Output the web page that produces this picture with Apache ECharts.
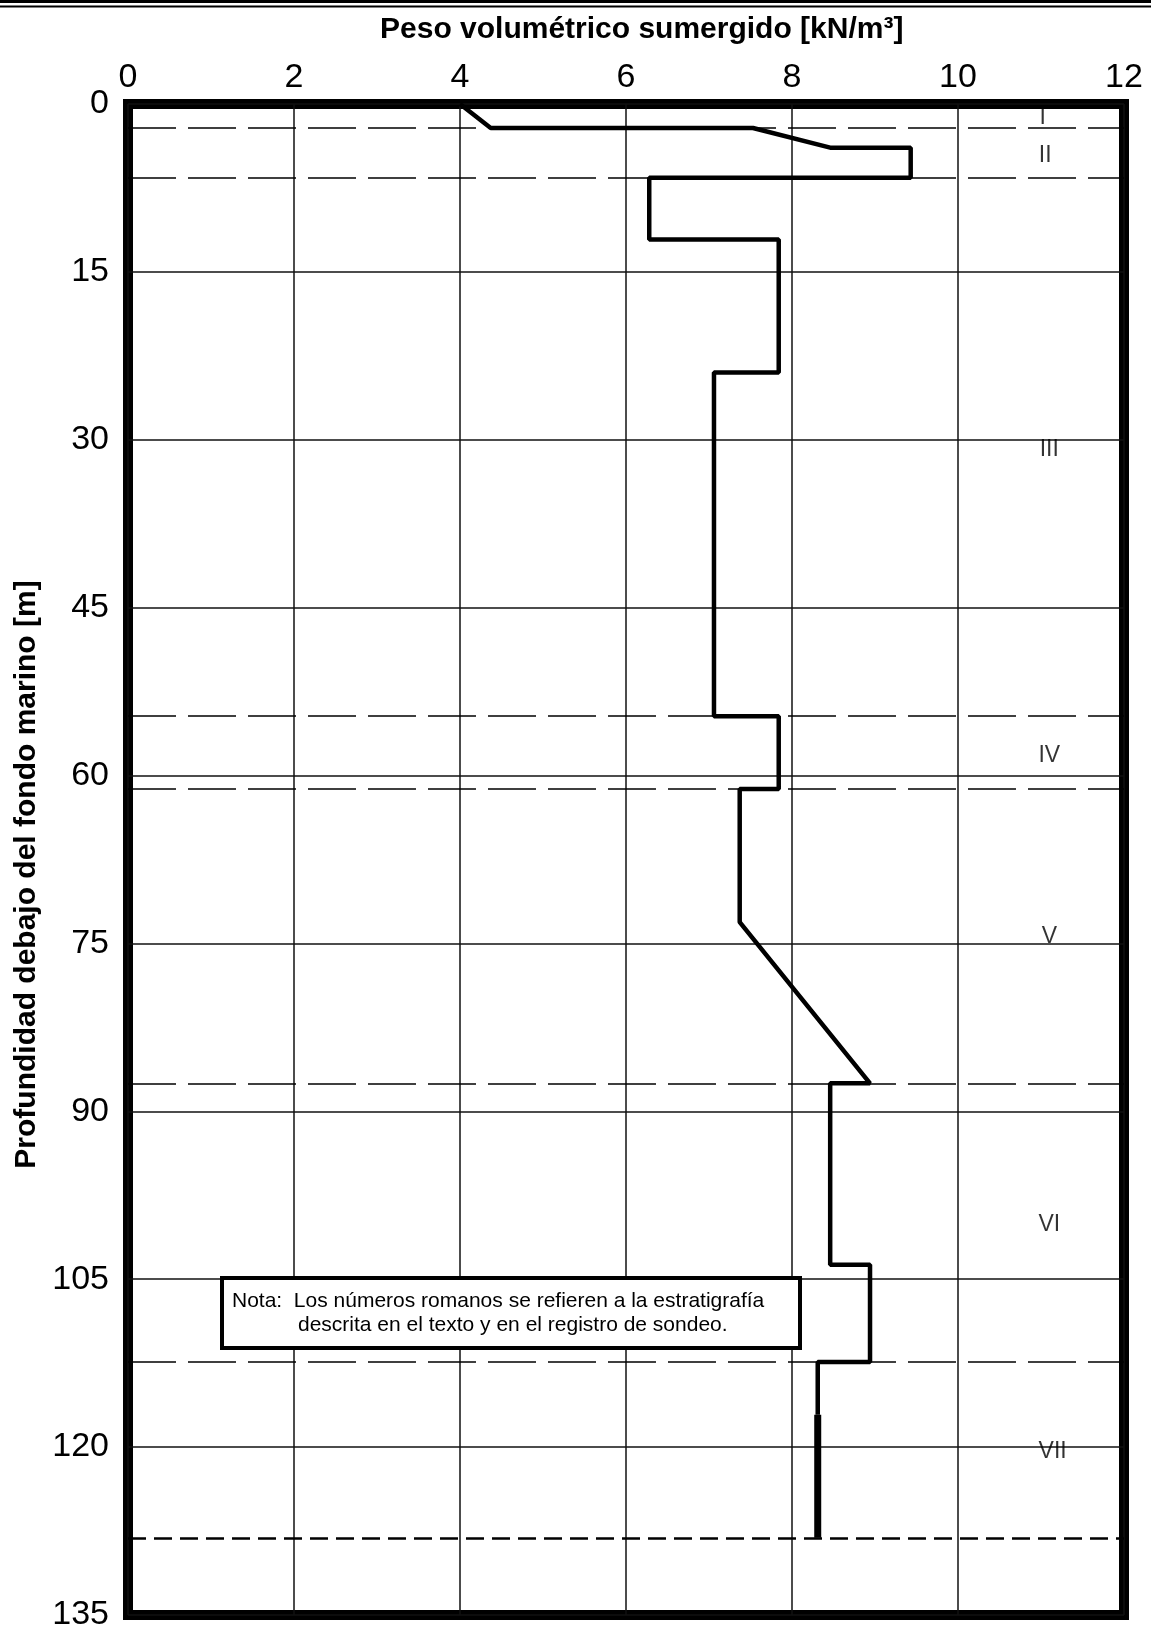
<!DOCTYPE html>
<html>
<head>
<meta charset="utf-8">
<script src="https://cdn.jsdelivr.net/npm/echarts@6/dist/echarts.min.js"></script>
<style>
html,body{margin:0;padding:0;background:#fff;}
#chart{width:1151px;height:1633px;}
</style>
</head>
<body>
<div id="chart"></div>
<script>
// ---- data ----
const xTickValues = [0, 2, 4, 6, 8, 10, 12];
const yTickValues = [0, 15, 30, 45, 60, 75, 90, 105, 120, 135];

// submerged unit weight profile [kN/m3] vs depth [m]
const profileWeight = [4.0, 4.37, 7.53, 8.46, 9.43, 9.43, 6.28, 6.28, 7.84, 7.84, 7.06, 7.06, 7.84, 7.84, 7.37, 7.37, 8.94, 8.46, 8.46, 8.94, 8.94, 8.31, 8.31];
const profileDepth  = [0, 2.14, 2.14, 3.9, 3.9, 6.6, 6.6, 12.1, 12.1, 24.0, 24.0, 54.7, 54.7, 61.2, 61.2, 73.1, 87.5, 87.5, 103.7, 103.7, 112.4, 112.4, 117.1];

// bottom (thicker) segment
const tailWeight = [8.31, 8.31];
const tailDepth  = [117.1, 128.1];

// layer boundaries (dashed)
const layerBoundaries = [2.14, 6.6, 54.7, 61.2, 87.5, 112.4];
const bottomBoundary = [128.1];

// stratigraphy labels
const layerNames  = ['I', 'II', 'III', 'IV', 'V', 'VI', 'VII'];
const layerLabelX = [11.02, 11.05, 11.1, 11.1, 11.1, 11.1, 11.14];
const layerLabelDepth = [1.25, 4.65, 30.9, 58.2, 74.4, 100.1, 120.4];

const titleText = 'Peso volumétrico sumergido [kN/m³]';
const yName = 'Profundidad debajo del fondo marino [m]';
const noteLine1 = 'Nota:  Los números romanos se refieren a la estratigrafía';
const noteLine2 = 'descrita en el texto y en el registro de sondeo.';

// ---- chart ----
const FONT = '"Liberation Sans", Arial, sans-serif';
const chart = echarts.init(document.getElementById('chart'), null, {renderer: 'canvas'});

const profileData = profileWeight.map((w, i) => [w, profileDepth[i]]);
const tailData = tailWeight.map((w, i) => [w, tailDepth[i]]);
const labelData = layerNames.map((n, i) => ({name: n, value: [layerLabelX[i], layerLabelDepth[i]]}));

const GL = 128, GT = 104, GW = 996, GH = 1511;

chart.setOption({
  animation: false,
  backgroundColor: '#fff',
  title: {
    text: titleText,
    left: 375, top: 10,
    textStyle: {fontFamily: FONT, fontWeight: 'bold', fontSize: 30, color: '#000'}
  },
  grid: {
    left: GL, top: GT, width: GW, height: GH,
    show: true, borderColor: '#000', borderWidth: 10, backgroundColor: 'transparent'
  },
  xAxis: {
    type: 'value', position: 'top',
    min: xTickValues[0], max: xTickValues[xTickValues.length - 1], interval: 2,
    axisLine: {show: false}, axisTick: {show: false},
    axisLabel: {fontFamily: FONT, fontSize: 34, color: '#000', margin: 9},
    splitLine: {show: true, lineStyle: {color: '#111', width: 1.5}}
  },
  yAxis: {
    type: 'value', inverse: true,
    min: yTickValues[0], max: yTickValues[yTickValues.length - 1], interval: 15,
    axisLine: {show: false}, axisTick: {show: false},
    axisLabel: {fontFamily: FONT, fontSize: 34, color: '#000', margin: 19},
    splitLine: {show: true, lineStyle: {color: '#111', width: 1.5}},
    name: yName, nameLocation: 'middle', nameGap: 84,
    nameTextStyle: {fontFamily: FONT, fontWeight: 'bold', fontSize: 30, color: '#000', padding: [0, 30, 0, 0]}
  },
  series: [
    {
      type: 'line', data: profileData, showSymbol: false, symbol: 'none',
      lineStyle: {color: '#000', width: 4.5}, z: 5,
      markLine: {
        silent: true, symbol: 'none', label: {show: false},
        lineStyle: {color: '#000', width: 1.5, type: [48, 12]},
        data: layerBoundaries.map(d => ({yAxis: d}))
      }
    },
    {
      type: 'line', data: tailData, showSymbol: false, symbol: 'none',
      lineStyle: {color: '#000', width: 7}, z: 5,
      markLine: {
        silent: true, symbol: 'none', label: {show: false},
        lineStyle: {color: '#000', width: 2.5, type: [18, 8]},
        data: bottomBoundary.map(d => ({yAxis: d}))
      }
    },
    {
      type: 'scatter', data: labelData, symbolSize: 0, silent: true, z: 6,
      label: {show: true, position: 'inside', formatter: '{b}', fontFamily: FONT, fontSize: 23, color: '#000'}
    }
  ],
  graphic: [
    {type: 'line', shape: {x1: 0, y1: 1.5, x2: 1151, y2: 1.5}, style: {stroke: '#000', lineWidth: 3}},
    {type: 'line', shape: {x1: 0, y1: 6.5, x2: 1151, y2: 6.5}, style: {stroke: '#000', lineWidth: 2}},
    {type: 'rect', z: 100, shape: {x: 222, y: 1278, width: 578, height: 70}, style: {fill: '#fff', stroke: '#000', lineWidth: 4}},
    {type: 'text', z: 101, x: 232, y: 1301, style: {text: noteLine1, fontFamily: FONT, fontSize: 21, fill: '#000', verticalAlign: 'middle'}},
    {type: 'text', z: 101, x: 298, y: 1325, style: {text: noteLine2, fontFamily: FONT, fontSize: 21, fill: '#000', verticalAlign: 'middle'}}
  ]
});
</script>
</body>
</html>
